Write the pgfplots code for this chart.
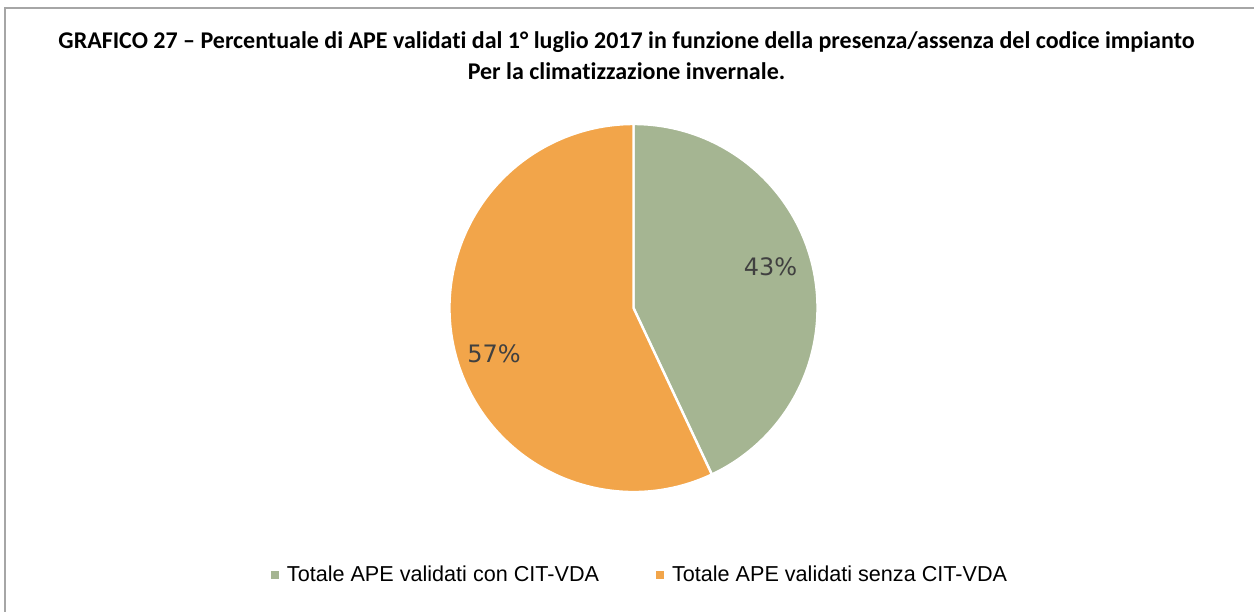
\documentclass[border=0pt]{standalone}
\usepackage{pgfplots}
\pgfplotsset{compat=1.18}
\usepackage{pgfplotstable}
\usepackage{fontspec}
\setmainfont{Carlito}[Ligatures=NoCommon]
\newfontfamily\arial{Liberation Sans}
\newfontfamily\dejavu{DejaVu Sans}
\definecolor{pgreen}{HTML}{A5B592}
\definecolor{porange}{HTML}{F2A54A}
\definecolor{lblgray}{HTML}{404040}
\definecolor{framegray}{HTML}{A6A6A6}

\pgfplotstableread{
value
43
57
}\piedata

\begin{document}
\begin{tikzpicture}
\useasboundingbox (0,0) rectangle (627pt,306pt);
\pgfplotstablegetelem{0}{value}\of\piedata \let\va\pgfplotsretval
\pgfplotstablegetelem{1}{value}\of\piedata \let\vb\pgfplotsretval
\pgfmathsetmacro\total{\va+\vb}
\pgfmathsetmacro\angA{90-\va/\total*360}
\pgfmathsetmacro\angB{\angA-\vb/\total*360}
\begin{axis}[
  at={(0,0)}, anchor=south west,
  scale only axis, width=627pt, height=306pt,
  xmin=0, xmax=1254, ymin=0, ymax=612,
  hide axis, clip=false,
  legend image code/.code={\fill[#1, draw=none] (0pt,-2pt) rectangle (4pt,2pt); \path[draw=none, fill=none] (0pt,0pt) -- (6pt,0pt);},
  legend style={at={(axis cs:641,37)}, anchor=center, draw=none, fill=none,
    legend columns=2,
    font=\arial\fontsize{10.8pt}{13pt}\selectfont,
    /tikz/every even column/.append style={column sep=26.5pt}},
]
% frame
\draw[framegray, line width=1pt] (axis cs:1254,604) -- (axis cs:5,604) -- (axis cs:5,0);
% pie wedges
\fill[pgreen, draw=white, line width=1.2pt, line join=round]
  (axis cs:633.5,304) -- ++(90:92pt) arc[start angle=90, end angle=\angA, radius=92pt] -- cycle;
\fill[porange, draw=white, line width=1.2pt, line join=round]
  (axis cs:633.5,304) -- ++(\angA:92pt) arc[start angle=\angA, end angle=\angB, radius=92pt] -- cycle;
% labels
\node[lblgray, font=\dejavu\fontsize{12pt}{14pt}\selectfont] at (axis cs:770.5,345) {43\%};
\node[lblgray, font=\dejavu\fontsize{12pt}{14pt}\selectfont] at (axis cs:494,258) {57\%};
% title
\node[anchor=base, font=\bfseries\fontsize{12pt}{16pt}\selectfont] at (axis cs:626.5,563.5)
  {GRAFICO 27 – Percentuale di APE validati dal 1° luglio 2017 in funzione della presenza/assenza del codice impianto};
\node[anchor=base, font=\bfseries\fontsize{12pt}{16pt}\selectfont] at (axis cs:626.5,532)
  {Per la climatizzazione invernale.};
\addlegendimage{fill=pgreen}
\addlegendentry{Totale APE validati con CIT-VDA}
\addlegendimage{fill=porange}
\addlegendentry{Totale APE validati senza CIT-VDA}
\end{axis}
\end{tikzpicture}
\end{document}
